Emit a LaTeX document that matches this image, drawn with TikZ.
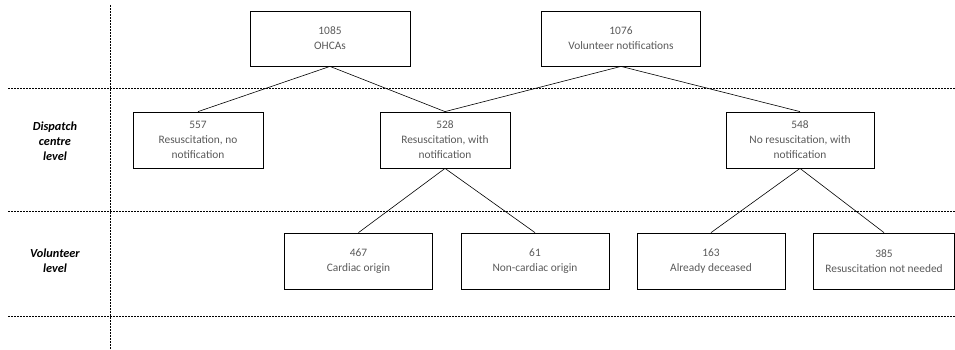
\documentclass[tikz,border=0pt]{standalone}
\usepackage{fontspec}
\setmainfont{Carlito}
\usepackage{xcolor}
\usepackage{tikz}
\usetikzlibrary{positioning}

\definecolor{txtgrey}{HTML}{595959}

\begin{document}
\begin{tikzpicture}[
  x=1pt, y=-1pt,
  font=\fontsize{11.4}{15}\selectfont,
  box/.style={draw, line width=0.8pt, align=center, text=txtgrey, minimum height=56pt, inner sep=2pt},
  level/.style={align=center, font=\fontsize{12.3}{15}\selectfont\bfseries\itshape},
  sep/.style={dash pattern=on 2pt off 1pt, line width=0.6pt},
  link/.style={line width=0.6pt}
]
  \useasboundingbox (0,0) rectangle (955,349);

  % swimlane separators
  \draw[sep] (110,5) -- (110,349);
  \draw[sep] (8,88) -- (955,88);
  \draw[sep] (8,211) -- (955,211);
  \draw[sep] (8,316) -- (955,316);

  \node[level] (l_disp) at (55,141) {Dispatch\\centre\\level};
  \node[level] (l_vol) at (55,261) {Volunteer\\level};

  % top row
  \node[box, minimum width=160pt, minimum height=55pt] (n_ohca) at (330,38.5) {1085\\OHCAs};
  \node[box, minimum width=159pt, minimum height=55pt] (n_notif) at (621,38.5) {1076\\Volunteer notifications};

  % dispatch centre level
  \node[box, minimum width=130pt] (n_nonotif) at (198,140) {557\\Resuscitation, no\\notification};
  \node[box, minimum width=130pt] (n_resus) at (445,140) {528\\Resuscitation, with\\notification};
  \node[box, minimum width=148pt] (n_nores) at (800,140) {548\\No resuscitation, with\\notification};

  % volunteer level
  \node[box, minimum width=148pt] (n_card) at (358.5,261) {467\\Cardiac origin};
  \node[box, minimum width=148pt] (n_noncard) at (535,261) {61\\Non-cardiac origin};
  \node[box, minimum width=148pt] (n_dead) at (711,261) {163\\Already deceased};
  \node[box, minimum width=141pt] (n_notneed) at (884,261) {385\\Resuscitation not needed};

  \draw[link] (n_ohca.south) -- (n_nonotif.north);
  \draw[link] (n_ohca.south) -- (n_resus.north);
  \draw[link] (n_notif.south) -- (n_resus.north);
  \draw[link] (n_notif.south) -- (n_nores.north);
  \draw[link] (n_resus.south) -- (n_card.north);
  \draw[link] (n_resus.south) -- (n_noncard.north);
  \draw[link] (n_nores.south) -- (n_dead.north);
  \draw[link] (n_nores.south) -- (n_notneed.north);
\end{tikzpicture}
\end{document}
